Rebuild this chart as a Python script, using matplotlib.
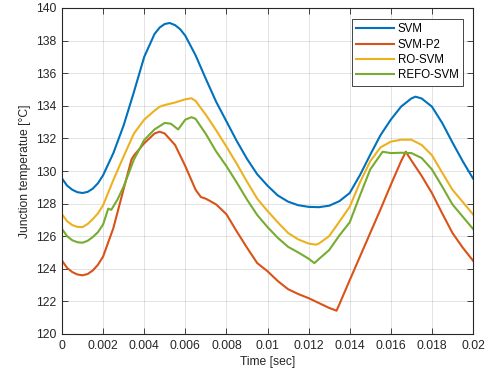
import matplotlib
matplotlib.use("Agg")
from matplotlib import pyplot as plt
from matplotlib.ticker import MultipleLocator

plt.rcParams["font.family"] = ["Liberation Sans", "DejaVu Sans"]

# Time samples (sec) and junction temperature (degC)
svm_t = [0.0, 0.00025, 0.0005, 0.00075, 0.001, 0.00125, 0.0015, 0.00175,
         0.002, 0.0025, 0.003, 0.0035, 0.004, 0.0045, 0.00475, 0.005, 0.00524,
         0.0055, 0.00575, 0.006, 0.0065, 0.007, 0.0075, 0.008, 0.0085, 0.009,
         0.0095, 0.01, 0.0105, 0.011, 0.0115, 0.012, 0.0125, 0.013, 0.0135,
         0.014, 0.0145, 0.015, 0.0155, 0.016, 0.0165, 0.017, 0.0172, 0.0175,
         0.018, 0.0185, 0.019, 0.0195, 0.02]
svm_v = [129.54, 129.1, 128.85, 128.7, 128.65, 128.72, 128.92, 129.25,
         129.74, 131.1, 132.8, 134.85, 137.0, 138.4, 138.8, 139.02, 139.08,
         138.95, 138.7, 138.3, 137.1, 135.65, 134.25, 133.05, 131.85, 130.75,
         129.8, 129.1, 128.5, 128.12, 127.9, 127.8, 127.78, 127.87, 128.15,
         128.65, 129.75, 131.0, 132.2, 133.15, 133.95, 134.45, 134.56, 134.45,
         133.95, 132.95, 131.75, 130.6, 129.54]

p2_t = [0.0, 0.00025, 0.0005, 0.00075, 0.001, 0.00125, 0.0015, 0.00175, 0.002,
        0.0025, 0.003, 0.00338, 0.0035, 0.004, 0.0045, 0.00475, 0.005, 0.0055,
        0.006, 0.0065, 0.00676, 0.007, 0.0075, 0.008, 0.0085, 0.009, 0.0095,
        0.01, 0.0105, 0.011, 0.0115, 0.012, 0.0125, 0.013, 0.01336, 0.0135,
        0.014, 0.0145, 0.015, 0.0155, 0.016, 0.0165, 0.01673, 0.017, 0.0175,
        0.018, 0.0185, 0.019, 0.0195, 0.02]
p2_v = [124.5, 124.05, 123.8, 123.65, 123.6, 123.68, 123.9, 124.25, 124.75,
        126.5, 128.9, 130.7, 130.95, 131.7, 132.3, 132.41, 132.3, 131.6,
        130.3, 128.85, 128.4, 128.3, 127.95, 127.35, 126.3, 125.3, 124.35,
        123.85, 123.25, 122.75, 122.45, 122.2, 121.9, 121.6, 121.43, 121.83,
        123.3, 124.75, 126.2, 127.65, 129.15, 130.6, 131.18, 130.65, 129.7,
        128.65, 127.4, 126.2, 125.3, 124.5]

ro_t = [0.0, 0.00025, 0.0005, 0.00075, 0.001, 0.00125, 0.0015, 0.00175, 0.002,
        0.0025, 0.003, 0.0035, 0.004, 0.0045, 0.00475, 0.005, 0.0055, 0.006,
        0.0063, 0.0065, 0.007, 0.0075, 0.008, 0.0085, 0.009, 0.0095, 0.01,
        0.0105, 0.011, 0.0115, 0.012, 0.01236, 0.0125, 0.013, 0.0135, 0.014,
        0.0145, 0.015, 0.0155, 0.016, 0.0165, 0.017, 0.0175, 0.018, 0.0185,
        0.019, 0.0195, 0.02]
ro_v = [127.34, 126.92, 126.68, 126.57, 126.56, 126.75, 127.05, 127.4, 127.9,
        129.45, 130.9, 132.3, 133.15, 133.7, 133.94, 134.05, 134.2, 134.4,
        134.46, 134.3, 133.45, 132.5, 131.5, 130.45, 129.35, 128.3, 127.55,
        126.85, 126.2, 125.8, 125.55, 125.48, 125.55, 126.0, 126.9, 127.8,
        129.3, 130.6, 131.45, 131.8, 131.92, 131.92, 131.6, 130.97, 129.9,
        128.85, 128.1, 127.34]

refo_t = [0.0, 0.00025, 0.0005, 0.00075, 0.001, 0.00125, 0.0015, 0.00175,
          0.002, 0.00225, 0.0024, 0.0027, 0.003, 0.0035, 0.004, 0.0045, 0.005,
          0.0053, 0.00565, 0.006, 0.0063, 0.0065, 0.007, 0.0075, 0.008, 0.0085,
          0.009, 0.0095, 0.01, 0.0105, 0.011, 0.0115, 0.012, 0.01228, 0.0125,
          0.013, 0.0135, 0.014, 0.0145, 0.015, 0.0156, 0.016, 0.0165, 0.017,
          0.0175, 0.018, 0.0185, 0.019, 0.0195, 0.02]
refo_v = [126.44, 126.0, 125.75, 125.63, 125.6, 125.72, 125.95, 126.25,
          126.72, 127.69, 127.62, 128.25, 129.05, 130.7, 131.9, 132.55, 132.95,
          132.9, 132.55, 133.15, 133.3, 133.2, 132.27, 131.2, 130.3, 129.3,
          128.25, 127.3, 126.56, 125.9, 125.35, 125.0, 124.62, 124.35, 124.6,
          125.15, 126.05, 126.85, 128.5, 130.1, 131.18, 131.1, 131.12, 131.1,
          130.8, 130.1, 129.05, 127.95, 127.2, 126.45]

series = [
    ("SVM", svm_t, svm_v, "#0072BD"),
    ("SVM-P2", p2_t, p2_v, "#D95319"),
    ("RO-SVM", ro_t, ro_v, "#EDB120"),
    ("REFO-SVM", refo_t, refo_v, "#77AC30"),
]

x_ticks = [0, 0.002, 0.004, 0.006, 0.008, 0.01, 0.012, 0.014, 0.016, 0.018, 0.02]
x_tick_labels = ["0", "0.002", "0.004", "0.006", "0.008", "0.01", "0.012",
                 "0.014", "0.016", "0.018", "0.02"]

fig_w_px, fig_h_px, dpi = 491, 381, 100
left_px, right_px, top_px, bottom_px = 62, 473, 8, 334

fig = plt.figure(figsize=(fig_w_px / dpi, fig_h_px / dpi), dpi=dpi)
ax = fig.add_axes((
    left_px / fig_w_px,
    (fig_h_px - bottom_px) / fig_h_px,
    (right_px - left_px) / fig_w_px,
    (bottom_px - top_px) / fig_h_px,
))

for name, t, v, color in series:
    ax.plot(t, v, color=color, linewidth=1.5, label=name)

ax.set_xlim(0, 0.02)
ax.set_ylim(120, 140)
ax.set_xticks(x_ticks)
ax.set_xticklabels(x_tick_labels)
ax.yaxis.set_major_locator(MultipleLocator(2))

axis_color = "#262626"
for sp in ax.spines.values():
    sp.set_color(axis_color)
    sp.set_linewidth(0.8)

ax.tick_params(
    direction="in", length=4, width=0.6, colors=axis_color,
    top=True, right=True, labelsize=8.7, pad=4,
)
ax.grid(True, color=axis_color, alpha=0.15, linewidth=0.6)
ax.set_axisbelow(True)

ax.set_xlabel("Time [sec]", fontsize=8.7, color=axis_color, labelpad=3)
ax.set_ylabel("Junction temperatue [\u00b0C]", fontsize=8.7, color=axis_color,
              labelpad=4)

leg = ax.legend(
    loc="upper right", bbox_to_anchor=(0.975, 0.966), fontsize=8.3,
    frameon=True, fancybox=False, framealpha=1.0, edgecolor=axis_color,
    handlelength=3.3, handletextpad=0.3, labelspacing=0.3,
    borderpad=0.35, borderaxespad=0.0,
)
leg.get_frame().set_linewidth(0.6)

fig.savefig("out.png", dpi=dpi)
